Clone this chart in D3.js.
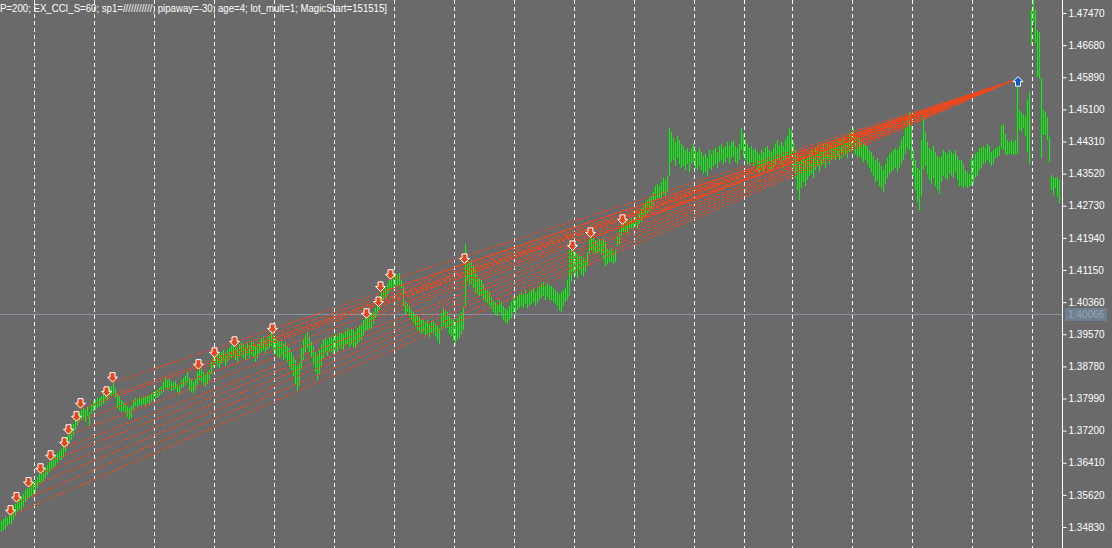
<!DOCTYPE html>
<html>
<head>
<meta charset="utf-8">
<title>EURUSD grid orders</title>
<script src="https://cdnjs.cloudflare.com/ajax/libs/d3/7.8.5/d3.min.js"></script>
<style>
body { margin: 0; background: #6a6a6a; overflow: hidden; }
svg { display: block; }
text { font-family: "Liberation Sans", Arial, sans-serif; }
</style>
</head>
<body>
<svg id="chart"></svg>
<script>
// bar highs and lows, price x 10000, oldest first
var highs = [
  13498,13503,13508,13506,13513, 13520,13530,13540,13550,13557, 13557,13565,13575,13580,13585, 13589,13594,13599,13607,13614,
  13619,13624,13629,13636,13643, 13648,13653,13658,13665,13670, 13675,13683,13692,13707,13720, 13727,13737,13747,13756,13764,
  13771,13776,13771,13781,13766, 13786,13791,13796,13801,13801, 13806,13811,13813,13820,13825, 13830,13838,13825,13813,13806,
  13796,13791,13786,13781,13776, 13781,13796,13801,13798,13803, 13801,13806,13803,13808,13806, 13811,13815,13818,13820,13825,
  13830,13840,13850,13845,13847, 13840,13838,13843,13835,13830, 13845,13850,13855,13865,13850, 13845,13840,13850,13865,13889,
  13874,13865,13857,13865,13870, 13889,13906,13919,13914,13909, 13914,13919,13911,13919,13923, 13931,13936,13929,13923,13933,
  13938,13933,13929,13936,13931, 13943,13938,13931,13933,13941, 13948,13953,13943,13950,13958, 13965,13956,13948,13943,13938,
  13943,13933,13938,13929,13923, 13914,13904,13894,13879,13889, 13923,13943,13956,13963,13953, 13938,13929,13914,13904,13919,
  13933,13943,13948,13943,13950, 13953,13948,13958,13953,13960, 13963,13958,13968,13973,13968, 13973,13968,13963,13973,13978,
  13983,13992,13997,14002,13997, 14007,14012,14022,14029,14042, 14059,14066,14071,14081,14091, 14096,14101,14106,14103,14108,
  14091,14076,14037,14032,14027, 14017,14012,14007,14002,13997, 13992,13997,13988,13992,13983, 13988,13992,13983,13978,13973,
  14007,14022,14017,14012,14002, 13997,13992,13988,13997,14002, 14012,14027,14179,14145,14135, 14135,14128,14115,14106,14096,
  14091,14081,14071,14066,14061, 14051,14042,14037,14032,14042, 14037,14027,14022,14017,14027, 14037,14046,14042,14051,14056,
  14061,14054,14066,14056,14061, 14066,14071,14061,14069,14076, 14081,14086,14076,14083,14078, 14076,14071,14066,14061,14056,
  14061,14066,14071,14091,14164, 14174,14169,14160,14155,14150, 14150,14145,14140,14160,14189, 14199,14194,14189,14187,14192,
  14187,14194,14184,14169,14164, 14169,14160,14164,14199,14214, 14233,14243,14238,14233,14238, 14243,14238,14246,14241,14253,
  14268,14278,14283,14287,14292, 14297,14307,14322,14327,14322, 14332,14341,14337,14346,14464, 14455,14440,14430,14445,14435,
  14425,14420,14410,14415,14405, 14415,14425,14410,14405,14415, 14405,14396,14400,14391,14410, 14400,14410,14415,14405,14420,
  14425,14415,14420,14430,14420, 14430,14435,14420,14415,14425, 14464,14450,14435,14425,14415, 14420,14410,14415,14405,14400,
  14410,14405,14415,14420,14410, 14405,14415,14425,14435,14420, 14430,14420,14435,14445,14464, 14459,14430,14410,14396,14381,
  14396,14400,14386,14396,14405, 14410,14400,14415,14420,14410, 14420,14425,14415,14430,14420, 14425,14435,14430,14440,14430,
  14435,14440,14445,14435,14450, 14455,14464,14450,14440,14445, 14435,14425,14430,14420,14410, 14405,14396,14386,14391,14381,
  14371,14361,14376,14391,14400, 14405,14410,14415,14410,14420, 14435,14445,14464,14489,14504, 14469,14410,14386,14366,14361,
  14435,14489,14455,14430,14415, 14410,14420,14405,14396,14391, 14396,14410,14405,14400,14410, 14405,14400,14410,14396,14386,
  14386,14376,14361,14356,14351, 14391,14386,14400,14405,14415, 14415,14420,14415,14425,14420, 14405,14410,14415,14418,14420,
  14469,14474,14450,14435,14430, 14435,14430,14435,14582,14509, 14504,14499,14494,14533,14553, 14754,14779,14754,14705,14700,
  14587,14509,14504,14491,14442, 14349,14344,14341,14344,14337
];
var lows = [
  13471,13476,13479,13486,13491, 13491,13501,13511,13520,13525, 13525,13533,13545,13550,13555, 13557,13565,13570,13580,13589,
  13592,13597,13604,13611,13619, 13624,13629,13634,13641,13648, 13648,13656,13668,13680,13692, 13697,13707,13722,13732,13742,
  13747,13752,13742,13756,13727, 13761,13766,13771,13776,13781, 13781,13786,13791,13796,13801, 13806,13811,13801,13776,13771,
  13766,13769,13761,13754,13747, 13752,13771,13781,13779,13784, 13781,13786,13784,13788,13786, 13791,13796,13801,13801,13806,
  13811,13815,13825,13820,13825, 13818,13820,13823,13815,13808, 13825,13828,13833,13838,13820, 13815,13813,13820,13833,13845,
  13840,13833,13828,13835,13845, 13860,13874,13884,13879,13874, 13884,13889,13879,13889,13894, 13899,13904,13894,13889,13901,
  13904,13899,13894,13906,13899, 13906,13901,13889,13899,13909, 13914,13919,13909,13919,13923, 13928,13919,13909,13904,13899,
  13904,13894,13899,13889,13879, 13870,13855,13835,13815,13830, 13870,13894,13914,13923,13914, 13899,13884,13865,13845,13860,
  13879,13899,13909,13904,13914, 13914,13909,13919,13914,13923, 13923,13919,13928,13933,13926, 13931,13926,13923,13933,13938,
  13943,13953,13963,13968,13968, 13973,13983,13997,14002,14017, 14032,14037,14042,14051,14061, 14066,14071,14076,14074,14078,
  14071,14027,14007,14012,14002, 13992,13983,13978,13968,13963, 13958,13963,13953,13958,13951, 13960,13963,13953,13943,13933,
  13968,13978,13973,13973,13958, 13953,13943,13931,13943,13948, 13958,13968,14022,14086,14076, 14081,14071,14061,14056,14051,
  14051,14042,14037,14034,14029, 14022,14012,14007,14002,14012, 14002,13992,13988,13983,13992, 13997,14012,14007,14017,14022,
  14027,14022,14032,14022,14027, 14032,14037,14027,14034,14042, 14046,14051,14042,14049,14042, 14042,14037,14032,14027,14017,
  14012,14027,14037,14042,14051, 14086,14110,14101,14096,14115, 14106,14101,14110,14125,14155, 14164,14160,14157,14155,14160,
  14155,14140,14125,14130,14135, 14135,14130,14135,14174,14179, 14199,14209,14209,14204,14214, 14218,14216,14223,14218,14228,
  14233,14243,14248,14253,14258, 14263,14273,14287,14292,14287, 14292,14302,14297,14307,14346, 14381,14386,14371,14391,14376,
  14366,14371,14361,14376,14356, 14376,14381,14366,14361,14371, 14361,14351,14356,14346,14366, 14361,14371,14376,14366,14381,
  14386,14376,14381,14391,14376, 14391,14396,14381,14376,14386, 14410,14396,14386,14376,14371, 14381,14371,14376,14361,14356,
  14366,14356,14371,14376,14361, 14356,14366,14376,14386,14371, 14376,14366,14381,14386,14386, 14391,14366,14341,14312,14287,
  14317,14332,14322,14337,14346, 14351,14341,14361,14371,14356, 14371,14376,14366,14386,14376, 14386,14391,14386,14396,14386,
  14391,14396,14400,14391,14405, 14410,14415,14400,14391,14396, 14391,14381,14386,14376,14366, 14356,14346,14332,14337,14322,
  14317,14307,14327,14341,14351, 14356,14361,14366,14356,14366, 14376,14386,14400,14415,14410, 14386,14346,14312,14283,14263,
  14297,14361,14371,14351,14337, 14327,14341,14322,14312,14302, 14332,14346,14341,14337,14351, 14346,14341,14356,14337,14322,
  14322,14317,14322,14317,14322, 14322,14327,14341,14346,14361, 14366,14376,14381,14386,14378, 14371,14376,14391,14393,14396,
  14415,14410,14400,14398,14400, 14400,14398,14400,14400,14459, 14455,14464,14445,14405,14376, 14668,14725,14673,14590,14587,
  14391,14447,14447,14435,14381, 14312,14300,14317,14295,14280
];

// sell entries of the grid (bar index, price x 10000), all closed on one bar
var entryBars   = [5, 8, 14, 20, 25, 32, 34, 38, 40, 53, 56, 99, 107, 117, 136, 183, 189, 190, 195, 232, 286, 295, 311];
var entryPrices = [13511, 13543, 13580, 13614, 13646, 13678, 13710, 13742, 13774, 13803, 13838, 13870, 13899, 13926,
                   13958, 13995, 14024, 14061, 14091, 14130, 14162, 14194, 14226];
var closeBar = 508;
var closePrice = 14582;

// vertical period separators, by bar index
var gridBars = [17, 47, 77, 107, 137, 167, 197, 227, 257, 287, 317, 347, 372, 396, 426, 456, 486, 516];

// price scale labels
var priceTicks = [1.34830, 1.35620, 1.36410, 1.37200, 1.37990, 1.38780, 1.39570, 1.40360, 1.41150,
                  1.41940, 1.42730, 1.43520, 1.44310, 1.45100, 1.45890, 1.46680, 1.47470];
var lastPrice = 1.40066;

var headerText = "P=200; EX_CCI_S=60; sp1=///////////; pipaway=-30; age=4; lot_mult=1; MagicStart=151515]";

var width = 1112, height = 548, axisX = 1062;

var svg = d3.select("#chart").attr("width", width).attr("height", height);
svg.append("rect").attr("width", width).attr("height", height).attr("fill", "#6a6a6a");

var x = d3.scaleLinear().domain([-0.5, highs.length - 0.5]).range([0, highs.length * 2]);
var y = d3.scaleLinear().domain([1.34830, 1.47470]).range([527, 13]);
function px(v) { return y(v / 10000); }

// header text
svg.append("text")
    .attr("x", 0).attr("y", 12)
    .attr("fill", "#ffffff")
    .attr("font-size", "10.5px")
    .attr("textLength", 387)
    .attr("lengthAdjust", "spacingAndGlyphs")
    .text(headerText);

// grid
svg.append("g").selectAll("line").data(gridBars).enter().append("line")
    .attr("x1", function (d) { return Math.round(x(d) - 1) + 0.5; })
    .attr("x2", function (d) { return Math.round(x(d) - 1) + 0.5; })
    .attr("y1", 0).attr("y2", height)
    .attr("stroke", "#ffffff")
    .attr("stroke-width", 1)
    .attr("stroke-dasharray", "4,3");

// last price line
svg.append("line")
    .attr("x1", 0).attr("x2", axisX)
    .attr("y1", Math.round(y(lastPrice)) + 0.5).attr("y2", Math.round(y(lastPrice)) + 0.5)
    .attr("stroke", "#8494a4").attr("stroke-width", 1);

// bars, one vertical stroke per bar from high to low
var barPath = d3.path();
highs.forEach(function (h, i) {
    var bx = x(i) + 0.5;
    var top = Math.round(px(h));
    var bot = Math.max(top + 1, Math.round(px(lows[i])));
    barPath.moveTo(bx, top);
    barPath.lineTo(bx, bot);
});
svg.append("path")
    .attr("d", barPath.toString())
    .attr("fill", "none")
    .style("stroke", "rgb(0,255,0)")
    .style("stroke-width", "1px")
    .style("shape-rendering", "crispEdges");

// order lines
svg.append("g").selectAll("line").data(entryBars).enter().append("line")
    .attr("x1", function (d) { return x(d); })
    .attr("y1", function (d, i) { return px(entryPrices[i]); })
    .attr("x2", x(closeBar) - 3)
    .attr("y2", px(closePrice))
    .attr("stroke", "#f0461a")
    .attr("stroke-width", 1)
    .attr("stroke-dasharray", "3,2")
    .attr("shape-rendering", "crispEdges");

// arrows
var downArrow = "M-2.5,-5 H2.5 V-0.5 H5 L0,4.5 L-5,-0.5 H-2.5 Z";
var upArrow = "M-2.5,5 H2.5 V0.5 H5 L0,-4.5 L-5,0.5 H-2.5 Z";

svg.append("g").selectAll("path").data(entryBars).enter().append("path")
    .attr("d", downArrow)
    .attr("transform", function (d, i) {
        return "translate(" + (x(d) - 0.5) + "," + (px(entryPrices[i]) - 5) + ")";
    })
    .attr("fill", "#e8441a")
    .attr("stroke", "#ffffff")
    .attr("stroke-width", 1);

svg.append("path")
    .attr("d", upArrow)
    .attr("transform", "translate(" + (x(closeBar) + 1) + "," + (px(closePrice) + 1) + ")")
    .attr("fill", "#0a5cc8")
    .attr("stroke", "#ffffff")
    .attr("stroke-width", 1);

// price axis
svg.append("line")
    .attr("x1", axisX + 0.5).attr("x2", axisX + 0.5)
    .attr("y1", 0).attr("y2", height)
    .attr("stroke", "#ffffff");

var axis = svg.append("g")
    .attr("transform", "translate(" + (axisX + 0.5) + ",0)")
    .call(d3.axisRight(y).tickValues(priceTicks).tickSize(4).tickSizeOuter(0).tickPadding(2)
        .tickFormat(d3.format(".5f")));
axis.select(".domain").remove();
axis.selectAll("line").attr("stroke", "#ffffff");
axis.selectAll("text")
    .attr("fill", "#ffffff")
    .attr("font-size", "10px")
    .attr("font-family", "'Liberation Sans', Arial, sans-serif");

// last price label
var ly = Math.round(y(lastPrice));
svg.append("rect")
    .attr("x", axisX + 3).attr("y", ly - 6)
    .attr("width", 42).attr("height", 13)
    .attr("fill", "#6f7f90");
svg.append("text")
    .attr("x", axisX + 6).attr("y", ly + 4)
    .attr("fill", "#98a3ae")
    .attr("font-size", "10px")
    .text(d3.format(".5f")(lastPrice));
</script>
</body>
</html>
